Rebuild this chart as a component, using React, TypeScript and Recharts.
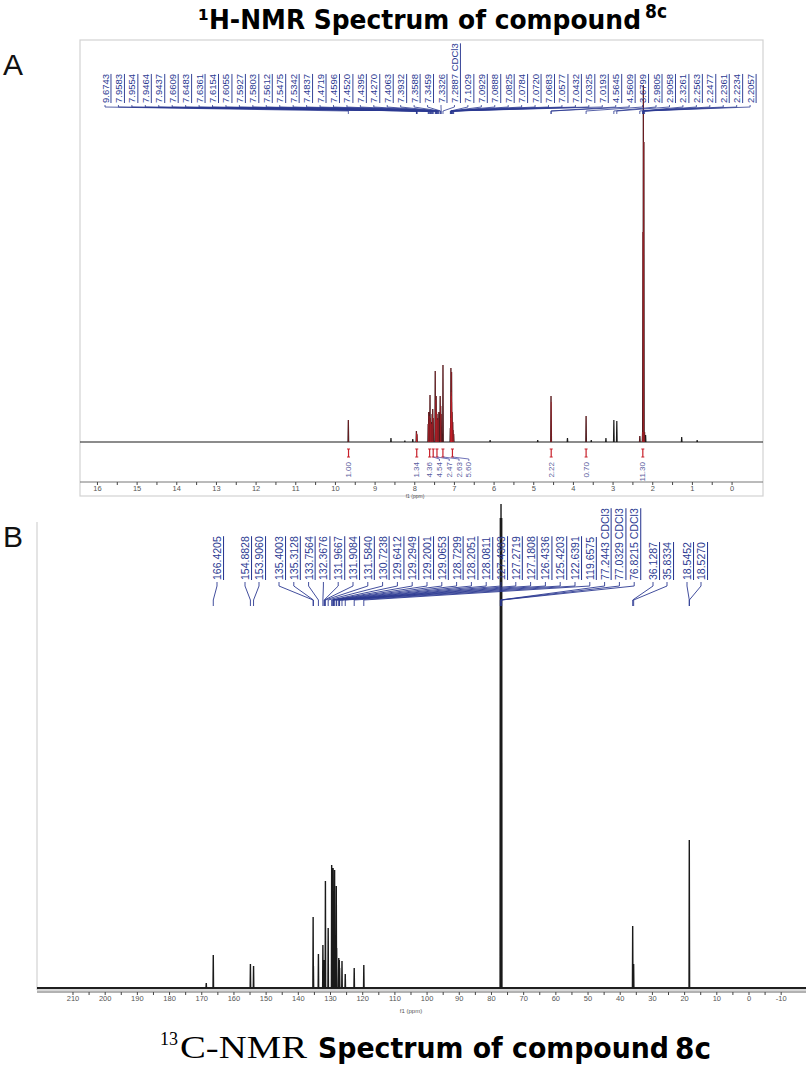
import React from 'react';
import { ComposedChart, Line, Scatter, XAxis, YAxis, ReferenceLine } from 'recharts';

// ---------- panel A : 1H NMR ----------
const hLabels = [
  '9.6743', '7.9583', '7.9554', '7.9464', '7.9437', '7.6609', '7.6483', '7.6361', '7.6154', '7.6055',
  '7.5927', '7.5803', '7.5612', '7.5475', '7.5342', '7.4837', '7.4719', '7.4596', '7.4520', '7.4395',
  '7.4270', '7.4063', '7.3932', '7.3588', '7.3459', '7.3326', '7.2887 CDCl3', '7.1029', '7.0929', '7.0888',
  '7.0825', '7.0784', '7.0720', '7.0683', '7.0577', '7.0432', '7.0325', '7.0193', '4.5645', '4.5609',
  '3.6799', '2.9805', '2.9058', '2.3261', '2.2563', '2.2477', '2.2361', '2.2234', '2.2057',
];
// peak heights under each label (px above baseline)
const hLabelInt = [
  22, 11, 9, 8, 7, 18, 30, 26, 47, 24,
  20, 18, 28, 33, 24, 71, 42, 46, 30, 28,
  22, 24, 30, 46, 36, 28, 77, 14, 24, 74,
  50, 46, 70, 40, 30, 20, 12, 8, 46, 40,
  26, 22, 21, 6, 10, 210, 357, 300, 10,
];
const hExtraPpm = [8.6, 8.25, 8.05, 6.1, 4.9, 4.15, 3.55, 3.18, 2.18, 1.27, 0.88];
const hExtraInt = [4, 1.5, 3, 2, 2, 4, 2, 4, 7, 5, 2];

const hIntFrom = [9.72, 8.0, 7.68, 7.57, 7.5, 7.38, 7.12, 4.6, 3.72, 2.35];
const hIntTo = [9.62, 7.9, 7.57, 7.5, 7.38, 7.2, 6.98, 4.52, 3.64, 2.15];
const hIntValues = ['1.00', '1.34', '4.36', '4.54', '2.47', '2.63', '5.60', '2.22', '0.70', '11.30'];

const hTickLabels = [16, 15, 14, 13, 12, 11, 10, 9, 8, 7, 6, 5, 4, 3, 2, 1, 0];

// ---------- panel B : 13C NMR ----------
const cLabels = [
  '166.4205', '154.8828', '153.9060', '135.4003', '135.3128', '133.7564', '132.3676', '131.9667',
  '131.9084', '131.5840', '130.7238', '129.6412', '129.2949', '129.2001', '129.0653', '128.7299',
  '128.2051', '128.0811', '127.4383', '127.2719', '127.1808', '126.4336', '125.4203', '122.6391',
  '119.6575', '77.2443 CDCl3', '77.0329 CDCl3', '76.8215 CDCl3', '36.1287', '35.8334', '18.5452', '18.5270',
];
const cLabelInt = [
  33, 24, 22, 71, 22, 34, 43, 25,
  28, 107, 60, 123, 112, 120, 65, 118,
  102, 40, 30, 28, 20, 27, 14, 20,
  23, 470, 484, 470, 62, 24, 148, 100,
];
const cExtraPpm = [168.6];
const cExtraInt = [5];

const cTickLabels = [210, 200, 190, 180, 170, 160, 150, 140, 130, 120, 110, 100, 90, 80, 70, 60, 50, 40, 30, 20, 10, 0, -10];

// ---------- layout ----------
const NAVY = '#2c3a92';
const H_LO = -0.78;
const H_HI = 16.44;
const H_LEFT = 80;
const H_W = 683;
const C_LO = -17.71;
const C_HI = 221.18;
const C_LEFT = 37;

const parsePpm = (s: string) => parseFloat(s);

function stickTable(ppm: number[], h: number[], lo: number, hi: number, w: number) {
  const peaks = ppm.map((p, i) => ({ p, h: h[i] })).sort((a, b) => b.p - a.p);
  const rows: { x: number; y: number }[] = [{ x: hi, y: 0 }];
  peaks.forEach(({ p, h: v }) => {
    rows.push({ x: p + w, y: 0 }, { x: p, y: v }, { x: p - w, y: 0 });
  });
  rows.push({ x: lo, y: 0 });
  return rows;
}

function redTable(ppm: number[], h: number[]) {
  const rows: { x: number; y: number | null }[] = [];
  ppm.forEach((p, i) => {
    rows.push({ x: p, y: 0 }, { x: p, y: h[i] }, { x: p, y: null });
  });
  return rows;
}

const hLabelPpm = hLabels.map(parsePpm);
const hBlack = stickTable([...hLabelPpm, ...hExtraPpm], [...hLabelInt, ...hExtraInt], H_LO, H_HI, 0.008);
const inIntegral = (p: number) => hIntFrom.some((f, k) => p <= f && p >= hIntTo[k]);
const hRedIdx = hLabelPpm.map((p, i) => i).filter((i) => inIntegral(hLabelPpm[i]));
const hRed = redTable(hRedIdx.map((i) => hLabelPpm[i]), hRedIdx.map((i) => hLabelInt[i]));
const hLabelPts = hLabels.map((t, i) => ({ x: hLabelPpm[i], y: 0, text: t, i }));

const pxPerPpm = H_W / (H_HI - H_LO);
const hIntCenters = hIntFrom.map((f, k) => (f + hIntTo[k]) / 2);
const hIntPts = (() => {
  const px = hIntCenters.map((c) => (H_HI - c) * pxPerPpm);
  const spread: number[] = [];
  px.forEach((v, k) => {
    spread.push(k > 0 && v - spread[k - 1] < 9.8 ? spread[k - 1] + 9.8 : v);
  });
  return hIntCenters.map((c, k) => ({ x: c, y: 0, text: hIntValues[k], off: spread[k] - px[k] }));
})();
const hTicks = hTickLabels.flatMap((t) => (t > 0 ? [t, t - 0.5] : [t]));

const cLabelPpm = cLabels.map(parsePpm);
const cBlack = stickTable([...cLabelPpm, ...cExtraPpm], [...cLabelInt, ...cExtraInt], C_LO, C_HI, 0.08);
const cLabelPts = cLabels.map((t, i) => ({ x: cLabelPpm[i], y: 0, text: t, i }));
const cTicks = cTickLabels.flatMap((t) => (t > -10 ? [t, t - 5] : [t]));

const cLabelX = (i: number) => {
  if (i === 0) return 217;
  if (i <= 2) return 245 + (i - 1) * 14;
  if (i <= 27) return 279 + (i - 3) * 14.8;
  if (i <= 29) return 653 + (i - 28) * 14;
  return 687 + (i - 30) * 14;
};

const HLabel = (props: any) => {
  const { cx, payload } = props;
  const lx = 105 + payload.i * 13.44;
  return (
    <g>
      <text x={lx} y={103} transform={`rotate(-90 ${lx} 103)`} textAnchor="start" dominantBaseline="central"
        fontSize={9.5} fill={NAVY} textDecoration="underline">{payload.text}</text>
      <polyline points={`${lx},105 ${lx},107 ${cx},111 ${cx},114`} fill="none" stroke={NAVY} strokeWidth={0.8} />
    </g>
  );
};

const HIntegral = (props: any) => {
  const { cx, payload } = props;
  const tx = cx + payload.off;
  return (
    <g>
      <line x1={cx} y1={449} x2={cx} y2={457} stroke="#c8202a" strokeWidth={1.2} />
      <line x1={cx - 1.5} y1={449} x2={cx + 1.5} y2={449} stroke="#c8202a" strokeWidth={1} />
      <line x1={cx - 1.5} y1={457} x2={cx + 1.5} y2={457} stroke="#c8202a" strokeWidth={1} />
      {payload.off !== 0 && (
        <polyline points={`${cx},457 ${tx},459 ${tx},461`} fill="none" stroke="#4b4fa6" strokeWidth={0.8} />
      )}
      <text x={tx} y={462} transform={`rotate(-90 ${tx} 462)`} textAnchor="end" dominantBaseline="central"
        fontSize={8} fill="#5a5ca0">{payload.text}</text>
    </g>
  );
};

const CLabel = (props: any) => {
  const { cx, payload } = props;
  const lx = cLabelX(payload.i);
  return (
    <g>
      <text x={lx} y={580} transform={`rotate(-90 ${lx} 580)`} textAnchor="start" dominantBaseline="central"
        fontSize={10.5} fill={NAVY} textDecoration="underline">{payload.text}</text>
      <polyline points={`${lx},582 ${lx},586 ${cx},600 ${cx},606`} fill="none" stroke={NAVY} strokeWidth={0.9} />
    </g>
  );
};

const hFmt = (v: number) => (Number.isInteger(v) ? String(v) : '');
const cFmt = (v: number) => (cTickLabels.includes(v) ? String(v) : '');
const condensed = "'Liberation Sans Narrow', 'DejaVu Sans Condensed', 'Liberation Sans', sans-serif";

export default function App() {
  return (
    <div style={{ position: 'absolute', left: 0, top: 0, width: 806, height: 1066, background: '#fff', overflow: 'hidden', fontFamily: "'Liberation Sans', Arial, sans-serif" }}>
      <svg width={806} height={1066} style={{ position: 'absolute', left: 0, top: 0 }}>
        <rect x={80} y={40} width={683} height={456} fill="none" stroke="#d2d2d2" strokeWidth={1.2} />
        <line x1={37} y1={522} x2={37} y2={990} stroke="#d2d2d2" strokeWidth={1.2} />
        <text x={198} y={29} fontFamily={condensed} fontWeight="bold" fontSize={26} textLength={443} lengthAdjust="spacingAndGlyphs">¹H-NMR Spectrum of compound</text>
        <text x={645} y={18} fontFamily={condensed} fontWeight="bold" fontSize={19}>8c</text>
        <text x={3} y={75} fontSize={30} fill="#111">A</text>
        <text x={3} y={547} fontSize={30} fill="#111">B</text>
        <text x={415} y={498} fontSize={5} fill="#555" textAnchor="middle">f1 (ppm)</text>
        <text x={411} y={1013} fontSize={6} fill="#555" textAnchor="middle">f1 (ppm)</text>
        <text x={160} y={1045} fontFamily="'Liberation Serif', serif" fontSize={18}>13</text>
        <text x={180} y={1058} fontFamily="'Liberation Serif', serif" fontSize={31} textLength={127} lengthAdjust="spacingAndGlyphs">C-NMR</text>
        <text x={318} y={1058} fontFamily={condensed} fontWeight="bold" fontSize={28} textLength={351} lengthAdjust="spacingAndGlyphs">Spectrum of compound</text>
        <text x={675} y={1059} fontFamily={condensed} fontWeight="bold" fontSize={31}>8c</text>
      </svg>

      <div style={{ position: 'absolute', left: 0, top: 0 }}>
        <ComposedChart width={806} height={500} margin={{ top: 40, right: 806 - H_LEFT - H_W, left: H_LEFT, bottom: 0 }}>
          <XAxis type="number" dataKey="x" domain={[H_LO, H_HI]} reversed allowDataOverflow ticks={hTicks} interval={0}
            tickFormatter={hFmt} height={18} tickSize={3} tickMargin={1}
            tick={{ fontSize: 7.5, fill: '#555' }} axisLine={{ stroke: '#777' }} tickLine={{ stroke: '#444' }} />
          <YAxis type="number" dataKey="y" domain={[-40, 402]} hide allowDataOverflow />
          <Line data={hBlack} dataKey="y" stroke="#1b1b1b" strokeWidth={1.2} dot={false} isAnimationActive={false} />
          <Line data={hRed} dataKey="y" stroke="#d0202a" strokeWidth={0.5} dot={false} connectNulls={false} isAnimationActive={false} />
          <Scatter data={hLabelPts} dataKey="y" shape={HLabel} isAnimationActive={false} />
          <Scatter data={hIntPts} dataKey="y" shape={HIntegral} isAnimationActive={false} />
        </ComposedChart>
      </div>

      <div style={{ position: 'absolute', left: 0, top: 0 }}>
        <ComposedChart width={806} height={1030} margin={{ top: 500, right: 0, left: C_LEFT, bottom: 0 }}>
          <XAxis type="number" dataKey="x" domain={[C_LO, C_HI]} reversed allowDataOverflow ticks={cTicks} interval={0}
            tickFormatter={cFmt} height={38} tickSize={3} tickMargin={1}
            tick={{ fontSize: 7.5, fill: '#555' }} axisLine={{ stroke: '#666', strokeWidth: 1.2 }} tickLine={{ stroke: '#444' }} />
          <YAxis type="number" dataKey="y" domain={[-4, 488]} hide allowDataOverflow />
          <ReferenceLine y={-2} stroke="#9a9a9a" strokeWidth={0.8} />
          <ReferenceLine y={0} stroke="#333" strokeWidth={2} />
          <Line data={cBlack} dataKey="y" stroke="#1a1a1a" strokeWidth={1.4} dot={false} isAnimationActive={false} />
          <Scatter data={cLabelPts} dataKey="y" shape={CLabel} isAnimationActive={false} />
        </ComposedChart>
      </div>
    </div>
  );
}
